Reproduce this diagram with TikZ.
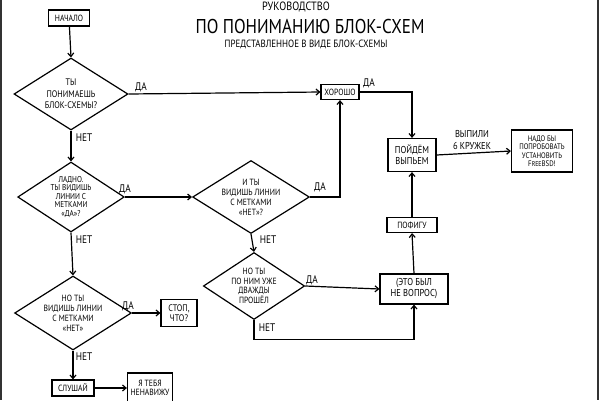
\documentclass[tikz,border=0pt]{standalone}
\usepackage{fontspec}
\setmainfont{PT Sans}[FakeStretch=0.85]
\usetikzlibrary{shapes.geometric,arrows.meta}
\begin{document}
\begin{tikzpicture}[x=1pt,y=-1pt,line width=1.2pt,
  box/.style={draw,rectangle,inner sep=1pt,align=center,font=\fontsize{9}{9.5}\selectfont},
  dec/.style={draw,diamond,aspect=1.6,inner sep=0pt,align=center,font=\fontsize{8.5}{8.5}\selectfont},
  lab/.style={font=\fontsize{11}{11}\selectfont,inner sep=0pt},
  arr/.style={-{Straight Barb[length=3.5pt,width=6pt]}}]
\useasboundingbox (0,0) rectangle (600,400);
\clip (0,0) rectangle (600,400);
\fill[white] (0,0) rectangle (600,400);
\draw[line width=2pt,black!80] (1,0) -- (1,400);
\draw[line width=2pt,black!80] (598,0) -- (598,400);
% titles
\node[font=\fontsize{12}{12}\selectfont] (t1) at (296,7) {РУКОВОДСТВО};
\node[font=\fontsize{20}{20}\selectfont] (t2) at (310,26) {ПО ПОНИМАНИЮ БЛОК-СХЕМ};
\node[font=\fontsize{10.5}{10.5}\selectfont] (t3) at (306,44) {ПРЕДСТАВЛЕННОЕ В ВИДЕ БЛОК-СХЕМЫ};
% boxes
\node[box,minimum width=41pt,minimum height=16pt] (start) at (69,18) {НАЧАЛО};
\node[box,minimum width=38pt,minimum height=15pt] (good) at (340,92) {ХОРОШО};
\node[box,minimum width=48pt,minimum height=33pt,font=\fontsize{10}{11}\selectfont] (drink) at (412,155) {ПОЙДЁМ\\ВЫПЬЕМ};
\node[box,minimum width=61pt,minimum height=42pt,font=\fontsize{8}{8.5}\selectfont] (bsd) at (542,151) {НАДО БЫ\\ПОПРОБОВАТЬ\\УСТАНОВИТЬ\\F{\fontsize{7}{7}\selectfont REE}BSD!};
\node[box,minimum width=50pt,minimum height=15pt] (whatever) at (412,225) {ПОФИГУ};
\node[box,minimum width=68pt,minimum height=30pt,font=\fontsize{10}{11}\selectfont] (notq) at (414,289) {(ЭТО БЫЛ\\НЕ ВОПРОС)};
\node[box,minimum width=36pt,minimum height=27pt,font=\fontsize{9.5}{10.5}\selectfont] (stop) at (179,313) {СТОП,\\ЧТО?};
\node[box,minimum width=42pt,minimum height=16pt] (listen) at (73,388) {СЛУШАЙ};
\node[box,minimum width=45pt,minimum height=30pt] (hate) at (150,388) {Я ТЕБЯ\\НЕНАВИЖУ};
% decisions
\node[dec,minimum width=114pt,minimum height=72pt,font=\fontsize{9.5}{11.5}\selectfont] (d1) at (71,94) {ТЫ\\ПОНИМАЕШЬ\\БЛОК-СХЕМЫ?};
\node[dec,minimum width=92pt,minimum height=70pt] (d2) at (71,197) {ЛАДНО.\\ТЫ ВИДИШЬ\\ЛИНИИ С\\МЕТКАМИ\\«ДА»?};
\node[dec,minimum width=112pt,minimum height=71pt,font=\fontsize{9}{10}\selectfont] (d3) at (251,197) {И ТЫ\\ВИДИШЬ ЛИНИИ\\С МЕТКАМИ\\«НЕТ»?};
\node[dec,minimum width=94pt,minimum height=74pt,font=\fontsize{9}{10}\selectfont] (d4) at (73,313) {НО ТЫ\\ВИДИШЬ ЛИНИИ\\С МЕТКАМИ\\«НЕТ»};
\node[dec,minimum width=94pt,minimum height=67pt,font=\fontsize{9}{9.5}\selectfont] (d5) at (254,286) {НО ТЫ\\ПО НИМ УЖЕ\\ДВАЖДЫ\\ПРОШЁЛ};
% connectors
\draw[arr] (start) -- (d1.north);
\draw[arr] (d1.east) -- (good.west);
\draw[arr] (d1.south) -- (d2.north);
\draw[arr] (d2.east) -- (d3.west);
\draw[arr] (d2.south) -- (d4.north);
\draw[arr] (d4.east) -- (stop.west);
\draw[arr] (d4.south) -- (listen.north);
\draw[arr] (listen.east) -- (hate.west);
\draw[arr] (d3.east) -| (good.south);
\draw[arr] (d3.south) -- (d5.north);
\draw[arr] (d5.east) -- (notq.west);
\draw[arr] (d5.south) -- ++(0,19) -| (notq.south);
\draw[arr] (good.east) -| (drink.north);
\draw[arr] (notq.north) -- (whatever.south);
\draw[arr] (whatever.north) -- (drink.south);
\draw[arr] (drink.east) -- (bsd.west);
% labels
\node[lab] (l1) at (141,87) {ДА};
\node[lab] (l2) at (84,138) {НЕТ};
\node[lab] (l3) at (125,189) {ДА};
\node[lab] (l4) at (84,240) {НЕТ};
\node[lab] (l5) at (128,306) {ДА};
\node[lab] (l6) at (84,357) {НЕТ};
\node[lab] (l7) at (320,187) {ДА};
\node[lab] (l8) at (268,240) {НЕТ};
\node[lab] (l9) at (312,280) {ДА};
\node[lab] (l10) at (267,328) {НЕТ};
\node[lab] (l11) at (369,83) {ДА};
\node[lab,align=center,font=\fontsize{10}{12}\selectfont] (l12) at (472,140) {ВЫПИЛИ\\6 КРУЖЕК};
\end{tikzpicture}
\end{document}
